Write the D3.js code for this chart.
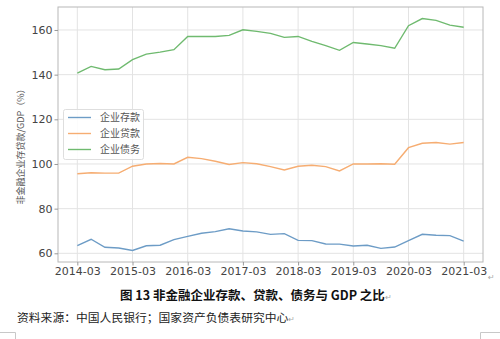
<!DOCTYPE html>
<html>
<head>
<meta charset="utf-8">
<script src="https://cdn.jsdelivr.net/npm/d3@7"></script>
<style>
  html, body { margin: 0; padding: 0; background: #fff; }
  svg { display: block; }
</style>
</head>
<body>
<svg id="chart" width="500" height="339"></svg>
<script>
// Quarterly observations, 2014Q1 – 2021Q1
const quarters = [
  "2014-03","2014-06","2014-09","2014-12",
  "2015-03","2015-06","2015-09","2015-12",
  "2016-03","2016-06","2016-09","2016-12",
  "2017-03","2017-06","2017-09","2017-12",
  "2018-03","2018-06","2018-09","2018-12",
  "2019-03","2019-06","2019-09","2019-12",
  "2020-03","2020-06","2020-09","2020-12",
  "2021-03"
];
const tickLabels = ["2014-03","2015-03","2016-03","2017-03","2018-03","2019-03","2020-03","2021-03"];
const yTicks = [60, 80, 100, 120, 140, 160];

// Ratios to GDP (%)
const deposits = [63.4, 66.3, 62.7, 62.4, 61.3, 63.4, 63.6, 66.1, 67.6, 69.0, 69.7, 71.0, 70.0, 69.6, 68.5, 68.8,
                  65.8, 65.7, 64.2, 64.1, 63.3, 63.6, 62.2, 62.8, 65.7, 68.5, 68.1, 67.9, 65.5];
const loans    = [95.6, 96.1, 95.9, 95.9, 99.0, 100.0, 100.2, 100.0, 103.0, 102.4, 101.2, 99.8, 100.6, 100.1, 98.8, 97.3,
                  99.0, 99.4, 98.8, 96.9, 100.0, 100.0, 100.1, 99.9, 107.3, 109.3, 109.6, 108.9, 109.6];
const debt     = [140.7, 143.7, 142.2, 142.5, 146.7, 149.2, 150.1, 151.2, 157.1, 157.1, 157.1, 157.6, 160.1, 159.4, 158.5, 156.7,
                  157.1, 154.9, 153.0, 150.9, 154.4, 153.7, 153.0, 151.8, 161.9, 165.1, 164.3, 162.2, 161.2];

const seriesNames = ["企业存款", "企业贷款", "企业债务"];
const seriesColors = ["#6d9cc6", "#f6ad72", "#6fba6f"];
const seriesValues = [deposits, loans, debt];

const svg = d3.select("#chart");
const plot = { left: 58, right: 483, top: 7, bottom: 262 };

const n = quarters.length;
const pad = (n - 1) * 0.05;
const x = d3.scaleLinear().domain([-pad, n - 1 + pad]).range([plot.left, plot.right]);

const all = seriesValues.flat();
const lo = d3.min(all), hi = d3.max(all), m = (hi - lo) * 0.05;
const y = d3.scaleLinear().domain([lo - m, hi + m]).range([plot.bottom, plot.top]);

const tickIdx = tickLabels.map(t => quarters.indexOf(t));

// Grid
const grid = svg.append("g");
grid.selectAll("line.v").data(tickIdx).join("line")
  .attr("x1", d => x(d)).attr("x2", d => x(d))
  .attr("y1", plot.top).attr("y2", plot.bottom)
  .attr("stroke", "#e3e3e3").attr("stroke-width", 1);
grid.selectAll("line.h").data(yTicks).join("line")
  .attr("x1", plot.left).attr("x2", plot.right)
  .attr("y1", d => y(d)).attr("y2", d => y(d))
  .attr("stroke", "#e3e3e3").attr("stroke-width", 1);

// Lines
const line = d3.line().x((d, i) => x(i)).y(d => y(d));
seriesValues.forEach((vals, k) => {
  svg.append("path")
    .datum(vals)
    .attr("fill", "none")
    .attr("stroke", seriesColors[k])
    .attr("stroke-width", 1.4)
    .attr("d", line);
});

// Frame
svg.append("rect")
  .attr("x", plot.left).attr("y", plot.top)
  .attr("width", plot.right - plot.left).attr("height", plot.bottom - plot.top)
  .attr("fill", "none").attr("stroke", "#b8b8b8").attr("stroke-width", 1);

// Axes
const xAxis = d3.axisBottom(x).tickValues(tickIdx)
  .tickFormat((d, i) => tickLabels[i]).tickSize(3.5).tickPadding(2);
const gx = svg.append("g").attr("transform", `translate(0,${plot.bottom})`).call(xAxis);
const yAxis = d3.axisLeft(y).tickValues(yTicks).tickSize(3.5).tickPadding(2);
const gy = svg.append("g").attr("transform", `translate(${plot.left},0)`).call(yAxis);
[gx, gy].forEach(g => {
  g.select(".domain").remove();
  g.selectAll(".tick line").attr("stroke", "#999");
  g.selectAll(".tick text")
    .attr("fill", "#444")
    .style("font-family", "DejaVu Sans, sans-serif")
    .style("font-size", "11px");
});

// Y-axis title
svg.append("text")
  .attr("transform", `translate(24,${(plot.top + plot.bottom) / 2 + 10}) rotate(-90)`)
  .attr("text-anchor", "middle")
  .attr("fill", "#555")
  .style("font-family", "Noto Sans CJK SC, sans-serif")
  .style("font-size", "9px")
  .text("非金融企业存贷款/GDP（%）");

// Legend
const lg = svg.append("g");
lg.append("rect")
  .attr("x", 63.5).attr("y", 109.5).attr("width", 80).attr("height", 50)
  .attr("rx", 2)
  .attr("fill", "rgba(255,255,255,0.85)").attr("stroke", "#dedede");
seriesNames.forEach((name, k) => {
  const yy = 117.5 + k * 16;
  lg.append("line")
    .attr("x1", 68).attr("x2", 91).attr("y1", yy).attr("y2", yy)
    .attr("stroke", seriesColors[k]).attr("stroke-width", 1.4);
  lg.append("text")
    .attr("x", 100).attr("y", yy + 3.5)
    .attr("fill", "#555")
    .style("font-family", "Noto Sans CJK SC, sans-serif")
    .style("font-size", "10px")
    .text(name);
});

// Paragraph mark after the tick row
svg.append("text")
  .attr("x", 488).attr("y", 280)
  .attr("fill", "#aaa").style("font-size", "8px")
  .style("font-family", "DejaVu Sans, sans-serif")
  .text("↵");

// Caption
const cap = svg.append("text")
  .attr("x", 120).attr("y", 300)
  .attr("fill", "#111")
  .style("font-family", "Noto Sans CJK SC, sans-serif")
  .style("font-size", "12.5px")
  .style("font-weight", "bold");
cap.append("tspan").text("图 13 非金融企业存款、贷款、债务与 GDP 之比");
cap.append("tspan").attr("fill", "#aaa").style("font-weight", "normal").style("font-size", "8px").text("↵");

// Source note
const src = svg.append("text")
  .attr("x", 17).attr("y", 322)
  .attr("fill", "#222")
  .style("font-family", "Noto Sans CJK SC, sans-serif")
  .style("font-size", "11.8px");
src.append("tspan").text("资料来源：中国人民银行；国家资产负债表研究中心");
src.append("tspan").attr("fill", "#aaa").style("font-size", "8px").text("↵");

// Page corner marks
svg.append("path").attr("d", "M0,332.5 H15.5 V339").attr("fill", "none").attr("stroke", "#c8c8c8");
svg.append("path").attr("d", "M500,332.5 H480.5 V339").attr("fill", "none").attr("stroke", "#c8c8c8");
</script>
</body>
</html>
